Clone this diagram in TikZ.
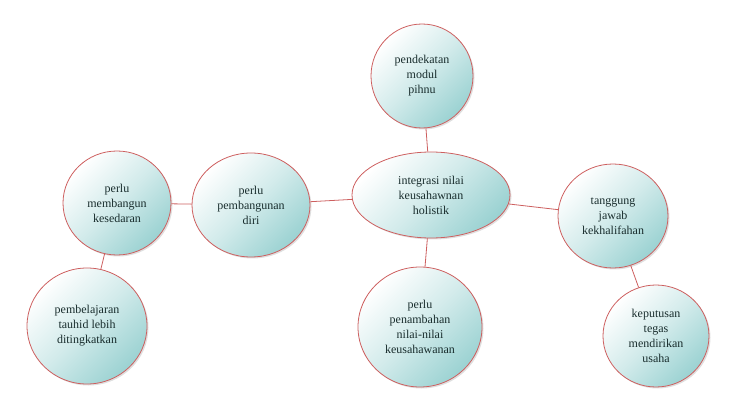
\documentclass[tikz,border=0pt]{standalone}
\usepackage{fontspec}
\setmainfont{Liberation Serif}
\usetikzlibrary{shapes,shadows}
\definecolor{bubble}{RGB}{155,210,210}
\definecolor{rim}{RGB}{205,95,95}
\definecolor{ink}{RGB}{25,45,45}
\tikzset{
idea/.style={
	  draw=rim, line width=0.8pt, ellipse, align=center, text=ink,
	    font=\fontsize{12}{15}\selectfont,
	    top color=white, bottom color=bubble, middle color=bubble!45, shading angle=45,
    drop shadow={opacity=0.25, shadow xshift=1.5pt, shadow yshift=-1.5pt}},
link/.style={draw=rim, line width=0.8pt}
}

\begin{document}
\begin{tikzpicture}[x=1pt, y=-1pt]
	\useasboundingbox (0,0) rectangle (729,414);
	\node[idea, minimum width=158pt, minimum height=86pt] (core) at (431,195) {integrasi nilai\\keusahawnan\\holistik};
	\node[idea, minimum width=102pt, minimum height=104pt] (modul) at (422,76) {pendekatan\\modul\\pihnu};
	\node[idea, minimum width=118pt, minimum height=104pt] (diri) at (251,205) {perlu\\pembangunan\\diri};
	\node[idea, minimum width=108pt, minimum height=104pt] (sedar) at (117,203) {perlu\\membangun\\kesedaran};
	\node[idea, minimum width=120pt, minimum height=116pt] (tauhid) at (87,326) {pembelajaran\\tauhid lebih\\ditingkatkan};
	\node[idea, minimum width=124pt, minimum height=120pt] (nilai) at (420,327) {perlu\\penambahan\\nilai-nilai\\keusahawanan};
	\node[idea, minimum width=110pt, minimum height=104pt] (khalifah) at (613,216) {tanggung\\jawab\\kekhalifahan};
	\node[idea, minimum width=106pt, minimum height=102pt] (usaha) at (656,336) {keputusan\\tegas\\mendirikan\\usaha};
	\draw[link] (core) -- (modul);
	\draw[link] (core) -- (diri);
	\draw[link] (diri) -- (sedar);
	\draw[link] (sedar) -- (tauhid);
	\draw[link] (core) -- (nilai);
	\draw[link] (core) -- (khalifah);
	\draw[link] (khalifah) -- (usaha);
\end{tikzpicture}
\end{document}
